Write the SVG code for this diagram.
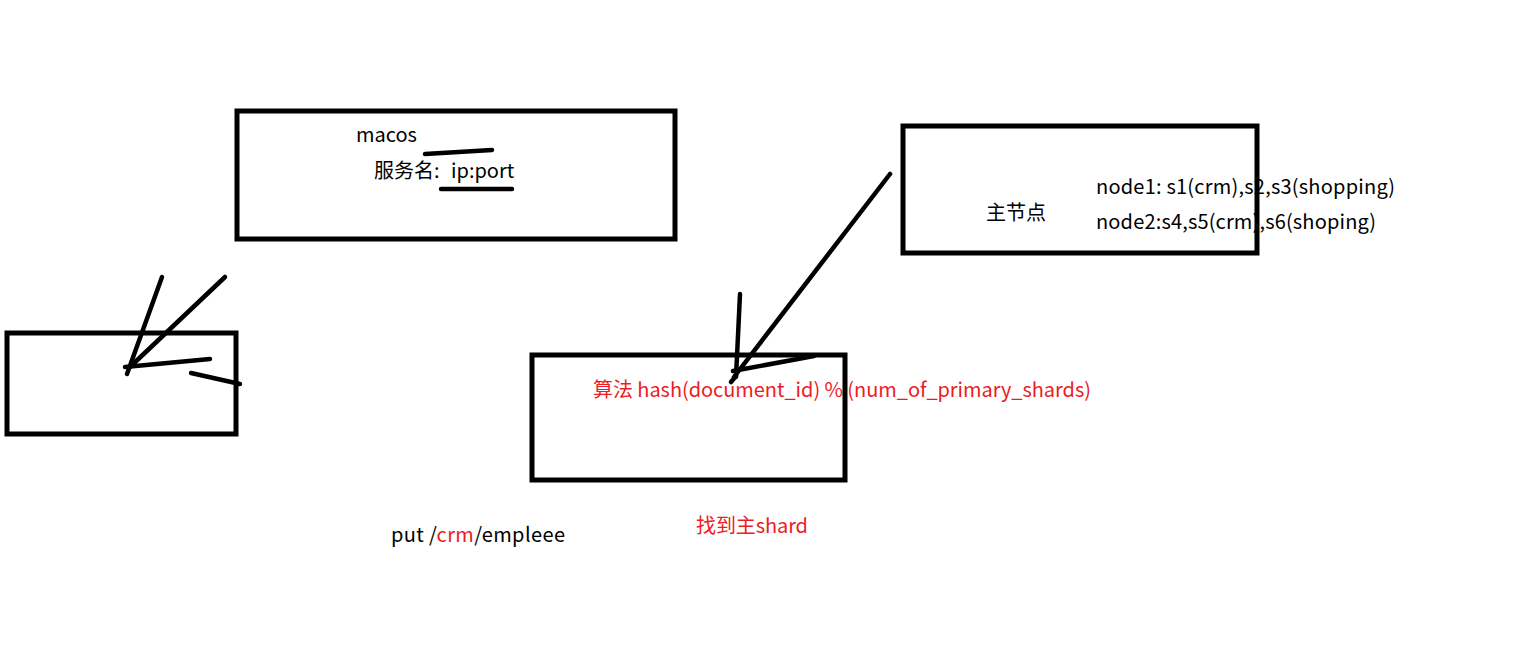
<svg xmlns="http://www.w3.org/2000/svg" width="1517" height="659" viewBox="0 0 1517 659">
<style>
.box{fill:none;stroke:#000;stroke-width:5}
.ln{fill:none;stroke:#000;stroke-width:4.5;stroke-linecap:round}
.t{font-family:"Noto Sans CJK SC","Microsoft YaHei","Noto Sans",sans-serif;font-size:20px;fill:#000}
.r{fill:#ed1c24}
</style>
<rect width="1517" height="659" fill="#fff"/>
<g id="node-macos">
<rect class="box" x="237" y="111" width="438" height="128"/>
<text class="t" x="356" y="142">macos</text>
<text class="t" x="374" y="178">服务名:</text>
<text class="t" x="451" y="178">ip:port</text>
</g>
<g id="node-left">
<rect class="box" x="7" y="333" width="229" height="101"/>
</g>
<g id="node-hash">
<text class="t r" x="593" y="397" textLength="498" lengthAdjust="spacing">算法 hash(document_id) % (num_of_primary_shards)</text>
<rect class="box" x="532" y="355" width="313" height="125"/>
</g>
<g id="node-master">
<text class="t" x="986" y="220">主节点</text>
<text class="t" x="1096" y="194" textLength="299" lengthAdjust="spacing">node1: s1(crm),s2,s3(shopping)</text>
<text class="t" x="1096" y="229" textLength="280" lengthAdjust="spacing">node2:s4,s5(crm),s6(shoping)</text>
<rect class="box" x="903" y="126" width="354" height="127"/>
</g>
<g id="node-put">
<text class="t" x="391" y="542" textLength="174" lengthAdjust="spacing">put /<tspan class="r">crm</tspan>/empleee</text>
</g>
<g id="node-find">
<text class="t r" x="696" y="533" textLength="112" lengthAdjust="spacing">找到主shard</text>
</g>
<g id="connectors">
<path class="ln" d="M425 154 L492 150"/>
<path class="ln" d="M441 189 L512 189"/>
<path class="ln" d="M162 277 L127 374"/>
<path class="ln" d="M225 277 L131 366"/>
<path class="ln" d="M125 367 L210 359"/>
<path class="ln" d="M191 373 L240 384"/>
<path class="ln" d="M890 174 L734 377"/>
<path class="ln" d="M740 294 L736 377"/>
<path class="ln" d="M733 371 L814 356"/>
<path class="ln" d="M731 382 L736 376"/>
</g>
</svg>
